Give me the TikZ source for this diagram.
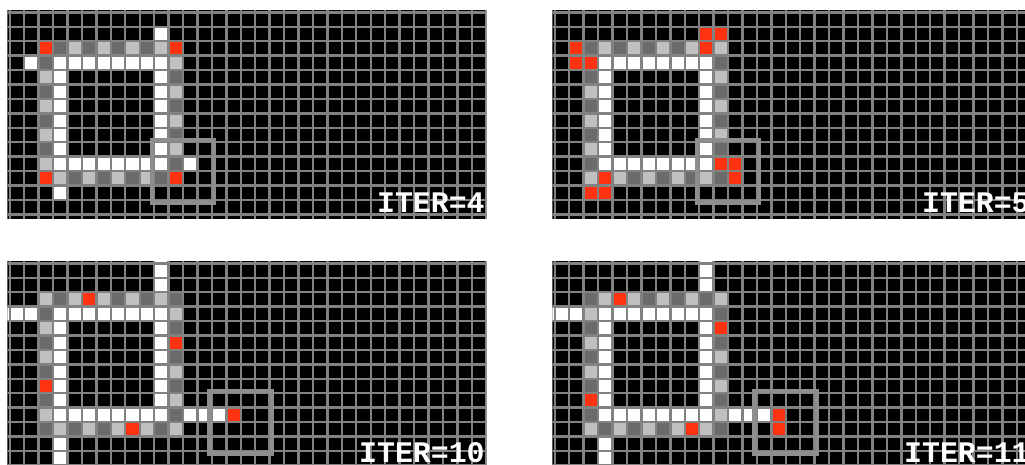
\documentclass[tikz,border=0pt]{standalone}
\usepackage{fontspec}
\setmonofont{Liberation Mono}
\usepackage{tikz}
\definecolor{lightcell}{HTML}{C0C0C0}
\definecolor{darkcell}{HTML}{6B6B6B}
\definecolor{hotcell}{HTML}{FF3311}
\definecolor{gridgray}{HTML}{828282}
\definecolor{boxgray}{HTML}{8E8E8E}

% one cell of the striped ring, shade by parity
\newcommand\ringcell[3]{%
  \pgfmathtruncatemacro\ringodd{mod(#1+#2+#3,2)}%
  \ifnum\ringodd=1
    \fill[darkcell] (#1,#2) rectangle ++(1,1);
  \else
    \fill[lightcell] (#1,#2) rectangle ++(1,1);
  \fi}

% black field, white square and the ring
\newcommand\drawboard[1]{%
  \fill[black] (-1,-1) rectangle (34,16);
  \foreach \k in {3,...,10}{
    \fill[white] (\k,3) rectangle ++(1,1);
    \fill[white] (\k,10) rectangle ++(1,1);
    \fill[white] (3,\k) rectangle ++(1,1);
    \fill[white] (10,\k) rectangle ++(1,1);}
  \foreach \k in {2,...,11}{\ringcell{\k}{2}{#1}\ringcell{\k}{11}{#1}}
  \foreach \k in {3,...,10}{\ringcell{2}{\k}{#1}\ringcell{11}{\k}{#1}}}

\newcommand\drawgrid{%
  \foreach \k in {-1,...,34} \draw[gridline] (\k,-1) -- (\k,16);
  \foreach \k in {-1,...,16} \draw[gridline] (-1,\k) -- (34,\k);}

\begin{document}
\begin{tikzpicture}[x=0.02cm,y=-0.02cm,
    gridline/.style={draw=gridgray,line width=0.048cm},
    hotbox/.style={draw=boxgray,line width=0.09cm},
    board/.style={shift={(9.8,12.3)},x=0.2888cm,y=-0.2888cm},
    itertext/.style={text=white,anchor=base east,inner sep=0pt,
      font=\ttfamily\bfseries\fontsize{17}{17}\selectfont}]
    \useasboundingbox (0,0) rectangle (1025,464);
    % ITER=4
    \begin{scope}
      \clip (7.3,10) rectangle (486.3,218.3);
      \begin{scope}[board]
        \drawboard{0}
        \foreach \c/\r in {10/1,1/3,12/10,3/12}
          \fill[white] (\c,\r) rectangle ++(1,1);
        \foreach \c/\r in {2/2,11/2,2/11,11/11}
          \fill[hotcell] (\c,\r) rectangle ++(1,1);
        \drawgrid
        \draw[hotbox] (9.84,8.84) rectangle (14.16,13.16);
      \end{scope}
      \node[itertext] at (485,212.5) {ITER=4};
    \end{scope}
    % ITER=5
    \begin{scope}[shift={(545,0)}]
      \clip (7.3,10) rectangle (480,218.3);
      \begin{scope}[board]
        \drawboard{1}
        \foreach \c/\r in {10/1,11/1,1/2,10/2,1/3,2/3,11/10,12/10,12/11,3/11,2/12,3/12}
          \fill[hotcell] (\c,\r) rectangle ++(1,1);
        \drawgrid
        \draw[hotbox] (9.84,8.84) rectangle (14.16,13.16);
      \end{scope}
      \node[itertext] at (485,212.5) {ITER=5};
    \end{scope}
    % ITER=10
    \begin{scope}[shift={(0,251)}]
      \clip (7.3,10) rectangle (486.3,213);
      \begin{scope}[board]
        \drawboard{0}
        \foreach \c/\r in {10/-1,10/0,10/1,-1/3,0/3,1/3,3/12,3/13,3/14,12/10,13/10,14/10}
          \fill[white] (\c,\r) rectangle ++(1,1);
        \foreach \c/\r in {5/2,11/5,2/8,8/11,15/10}
          \fill[hotcell] (\c,\r) rectangle ++(1,1);
        \drawgrid
        \draw[hotbox] (13.84,8.84) rectangle (18.16,13.16);
      \end{scope}
      \node[itertext] at (485,211.5) {ITER=10};
    \end{scope}
    % ITER=11
    \begin{scope}[shift={(545,251)}]
      \clip (7.3,10) rectangle (480,213);
      \begin{scope}[board]
        \drawboard{1}
        \foreach \c/\r in {10/-1,10/0,10/1,-1/3,0/3,1/3,3/12,3/13,3/14,12/10,13/10,14/10}
          \fill[white] (\c,\r) rectangle ++(1,1);
        \foreach \c/\r in {4/2,11/4,2/9,9/11,15/10,15/11}
          \fill[hotcell] (\c,\r) rectangle ++(1,1);
        \drawgrid
        \draw[hotbox] (13.84,8.84) rectangle (18.16,13.16);
      \end{scope}
      \node[itertext] at (485,211.5) {ITER=11};
    \end{scope}
\end{tikzpicture}
\end{document}
